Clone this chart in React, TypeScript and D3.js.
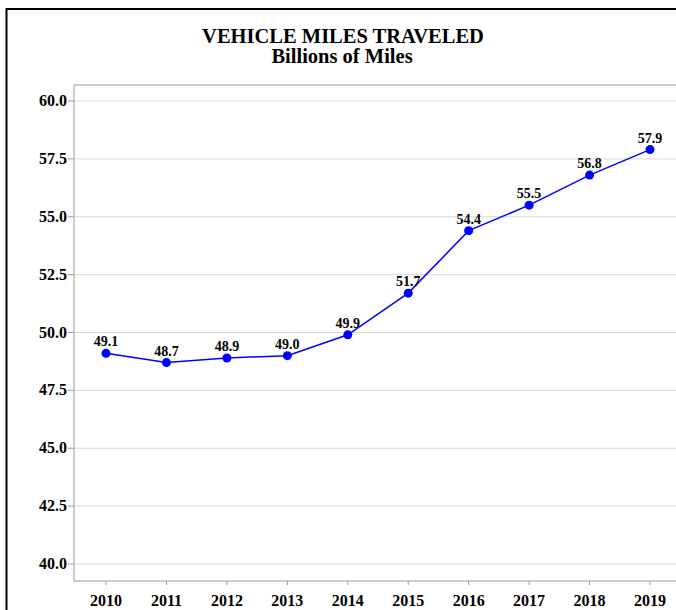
import React from "react";
import * as d3 from "d3";

const years = ["2010", "2011", "2012", "2013", "2014", "2015", "2016", "2017", "2018", "2019"];
const values = [49.1, 48.7, 48.9, 49.0, 49.9, 51.7, 54.4, 55.5, 56.8, 57.9];
const yTicks = [40, 42.5, 45, 47.5, 50, 52.5, 55, 57.5, 60];
const titleLines = ["VEHICLE MILES TRAVELED", "Billions of Miles"];

const W = 676;
const H = 610;
const font = "'Liberation Serif', 'Times New Roman', serif";

export default function App() {
  const plotLeft = 74;
  const plotRight = 690;
  const plotTop = 85;
  const plotBottom = 581;

  const x = d3.scalePoint<string>().domain(years).range([106, 650]);
  const y = d3.scaleLinear().domain([40, 60]).range([564, 101]);

  const line = d3
    .line<number>()
    .x((_, i) => x(years[i]) as number)
    .y((d) => y(d));

  return (
    <svg
      width={W}
      height={H}
      style={{ position: "absolute", left: 0, top: 0, background: "#fff" }}
      fontFamily={font}
    >
      <rect x={0} y={0} width={W} height={H} fill="#fff" />
      {/* outer frame */}
      <rect x={6.5} y={9} width={720} height={700} fill="none" stroke="#000" strokeWidth={2} />
      {/* title */}
      <text x={343} y={43} textAnchor="middle" fontSize={20.5} fontWeight="bold" fill="#000">
        {titleLines[0]}
      </text>
      <text x={342} y={63} textAnchor="middle" fontSize={20.5} fontWeight="bold" fill="#000">
        {titleLines[1]}
      </text>
      {/* gridlines */}
      {yTicks.map((t) => (
        <line key={"g" + t} x1={plotLeft} x2={plotRight} y1={y(t)} y2={y(t)} stroke="#d9d9d9" strokeWidth={1} />
      ))}
      {/* plot frame */}
      <rect
        x={plotLeft}
        y={plotTop}
        width={plotRight - plotLeft}
        height={plotBottom - plotTop}
        fill="none"
        stroke="#bdbdbd"
        strokeWidth={1.5}
      />
      {/* y ticks */}
      {yTicks.map((t) => (
        <g key={"y" + t}>
          <line x1={68} x2={plotLeft} y1={y(t)} y2={y(t)} stroke="#999" />
          <text x={67} y={y(t) + 5} textAnchor="end" fontSize={16} fontWeight="bold" fill="#000">
            {t.toFixed(1)}
          </text>
        </g>
      ))}
      {/* x ticks */}
      {years.map((yr) => (
        <g key={"x" + yr}>
          <line x1={x(yr)} x2={x(yr)} y1={plotBottom} y2={plotBottom + 4} stroke="#999" />
          <text x={x(yr)} y={606} textAnchor="middle" fontSize={16} fontWeight="bold" fill="#000">
            {yr}
          </text>
        </g>
      ))}
      {/* line */}
      <path d={line(values) || ""} fill="none" stroke="#0000ff" strokeWidth={1.5} />
      {values.map((v, i) => (
        <g key={"p" + i}>
          <circle cx={x(years[i])} cy={y(v)} r={4.5} fill="#0000ff" />
          <text
            x={x(years[i])}
            y={y(v) - 7}
            textAnchor="middle"
            fontSize={14}
            fontWeight="bold"
            fill="#000"
          >
            {v.toFixed(1)}
          </text>
        </g>
      ))}
    </svg>
  );
}
